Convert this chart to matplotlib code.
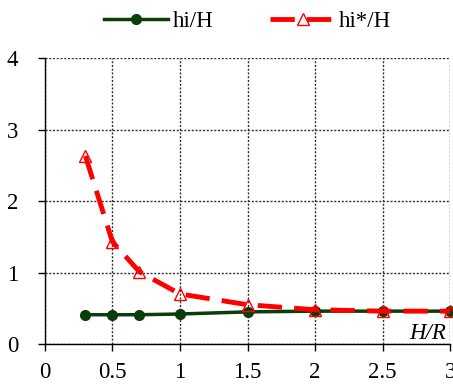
import numpy as np
import matplotlib
matplotlib.use("Agg")
import matplotlib.pyplot as plt

plt.rcParams['font.family'] = ['Liberation Serif', 'DejaVu Serif']

h_over_r = [0.3, 0.5, 0.7, 1.0, 1.5, 2.0, 2.5, 3.0]
hi_h = [0.41, 0.41, 0.41, 0.42, 0.45, 0.46, 0.46, 0.46]
hi_star_h = [2.63, 1.43, 1.01, 0.70, 0.55, 0.48, 0.46, 0.46]

x_ticks = [0, 0.5, 1, 1.5, 2, 2.5, 3]
x_labels = ['0', '0.5', '1', '1.5', '2', '2.5', '3']
y_ticks = [0, 1, 2, 3, 4]

fig = plt.figure(figsize=(4.53, 3.87), dpi=100)
ax = fig.add_axes([0.099, 0.111, 0.895, 0.739])

ax.plot(h_over_r, hi_h, color='#0b3d0b', lw=2.5, marker='o', ms=7,
        label='hi/H', zorder=3, clip_on=False)
ax.plot(h_over_r, hi_star_h, color='#ff0000', lw=3.5, ls=(0, (5, 2.5)),
        marker='^', ms=8, mfc='none', mec='#ff0000', mew=1.0,
        label='hi*/H', zorder=4, clip_on=False)

ax.set_xlim(0, 3)
ax.set_ylim(0, 4)
ax.set_xticks(x_ticks)
ax.set_xticklabels(x_labels)
ax.set_yticks(y_ticks)
ax.grid(True, ls=(0, (1.5, 1.2)), color='#333333', lw=1.0)
for s in ['top', 'right']:
    ax.spines[s].set_visible(False)
for s in ['left', 'bottom']:
    ax.spines[s].set_color('black')
    ax.spines[s].set_linewidth(1.0)
ax.tick_params(axis='both', labelsize=16.5, direction='out', length=5, width=1)
ax.tick_params(axis='x', pad=8)
ax.tick_params(axis='y', pad=14)

ax.text(2.97, 0.15, 'H/R', fontsize=16.5, style='italic', ha='right', va='center')

ax.legend(loc='lower center', bbox_to_anchor=(0.5, 1.02), ncol=2, frameon=False,
          fontsize=16.5, handlelength=2.8, columnspacing=2.5, handletextpad=0.2)

fig.savefig('out.png', dpi=100)
